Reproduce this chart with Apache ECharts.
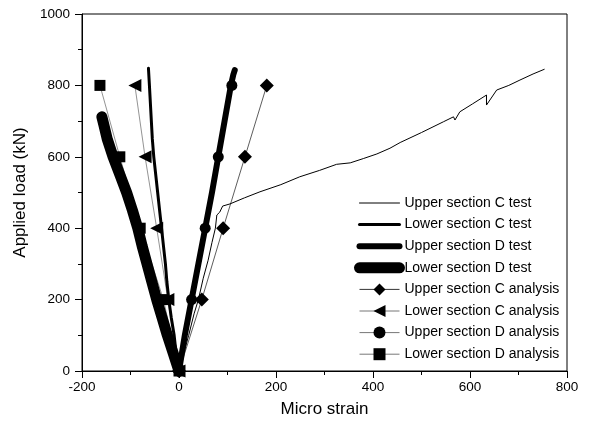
<!DOCTYPE html>
<html>
<head>
<meta charset="utf-8">
<script src="https://cdn.jsdelivr.net/npm/echarts@6/dist/echarts.min.js"></script>
<style>
  html, body { margin: 0; padding: 0; background: #fff; }
  #main { width: 591px; height: 427px; }
</style>
</head>
<body>
<div id="main"></div>
<script>
// [micro strain, applied load kN]
const upperCTest = [[0, 0], [10, 50], [20, 100], [31, 160], [40, 200], [50, 260], [60, 310], [68, 360], [75, 400], [78, 437], [84, 445], [90, 462],
  [105, 468], [135, 485], [167, 502], [210, 522], [249, 544], [290, 562], [325, 579], [353, 583], [380, 595], [408, 608], [435, 624], [456, 640],
  [500, 668], [545, 698], [566, 712], [569, 703], [579, 726], [605, 748], [634, 773], [634, 745], [655, 787], [680, 800], [703, 815], [730, 832], [753, 845]];
const lowerCTest = [[0, 0], [-6, 50], [-10, 100], [-16, 150], [-21, 200], [-25, 250], [-28, 300], [-32, 350], [-36, 400], [-40, 450], [-44, 500],
  [-48, 550], [-52, 600], [-55, 650], [-57, 700], [-59, 750], [-61, 800], [-63, 848]];
const upperDTest = [[0, 0], [12, 100], [26, 200], [40, 300], [54, 400], [68, 500], [81, 600], [94, 700], [107, 800], [112, 830], [115, 843]];
const lowerDTest = [[0, 0], [-12, 50], [-24, 100], [-35, 150], [-46, 200], [-56, 250], [-66, 300], [-76, 350], [-85, 400], [-96, 450],
  [-108, 500], [-122, 550], [-136, 600], [-148, 650], [-155, 690], [-159, 712]];
const upperCAnalysis = [[0, 0], [47, 200], [91, 400], [136, 600], [181, 800]];
const lowerCAnalysis = [[0, 0], [-23, 200], [-46, 400], [-70, 600], [-91, 800]];
const upperDAnalysis = [[0, 0], [26, 200], [54, 400], [81, 600], [109, 800]];
const lowerDAnalysis = [[0, 0], [-32, 200], [-80, 400], [-122, 600], [-163, 800]];
const seriesNames = ['Upper section C test', 'Lower section C test', 'Upper section D test', 'Lower section D test',
  'Upper section C analysis', 'Lower section C analysis', 'Upper section D analysis', 'Lower section D analysis'];
const testWidths = [1, 3, 6, 11];

const font = 'Liberation Sans, Arial, sans-serif';
const chart = echarts.init(document.getElementById('main'));

const testLine = (name, data, width) => ({
  name: name,
  type: 'line',
  data: data,
  symbol: 'circle',
  symbolSize: 3,
  showSymbol: false,
  lineStyle: { color: '#000', width: width, cap: 'round', join: 'round' },
  itemStyle: { color: '#000' },
  emphasis: { disabled: true },
  z: 3,
});
const analysisLine = (name, data, symbol, size, rotate, lineColor) => ({
  name: name,
  type: 'line',
  data: data,
  symbol: symbol,
  symbolSize: size,
  symbolRotate: rotate,
  showAllSymbol: true,
  lineStyle: { color: lineColor, width: 0.8 },
  itemStyle: { color: '#000' },
  emphasis: { disabled: true },
  z: 2,
});

chart.setOption({
  animation: false,
  textStyle: { fontFamily: font },
  grid: { left: 82, right: 24, top: 14, bottom: 56, show: true, borderColor: '#000', borderWidth: 1 },
  xAxis: {
    type: 'value', min: -200, max: 800, interval: 200,
    name: 'Micro strain', nameLocation: 'middle', nameGap: 30,
    nameTextStyle: { fontSize: 17, color: '#000', fontFamily: font },
    axisLine: { onZero: false, lineStyle: { color: '#000', width: 1 } },
    axisTick: { length: 7, lineStyle: { color: '#000' } },
    minorTick: { show: true, splitNumber: 2, length: 4, lineStyle: { color: '#000' } },
    splitLine: { show: false },
    axisLabel: { fontSize: 13.5, color: '#000', margin: 9, fontFamily: font, formatter: (v) => String(v) },
  },
  yAxis: {
    type: 'value', min: 0, max: 1000, interval: 200,
    name: 'Applied load (kN)', nameLocation: 'middle', nameGap: 47,
    nameTextStyle: { fontSize: 17, color: '#000', fontFamily: font },
    axisLine: { show: true, onZero: false, lineStyle: { color: '#000', width: 1 } },
    axisTick: { show: true, length: 7, lineStyle: { color: '#000' } },
    minorTick: { show: true, splitNumber: 2, length: 4, lineStyle: { color: '#000' } },
    splitLine: { show: false },
    axisLabel: { fontSize: 13.5, color: '#000', margin: 12, fontFamily: font, formatter: (v) => String(v) },
  },
  legend: {
    orient: 'vertical', left: 349, top: 191,
    itemWidth: 40, itemHeight: 15, itemGap: 7.6,
    textStyle: { fontSize: 14, color: '#000', fontFamily: font },
    selectedMode: false,
    data: [
      { name: seriesNames[0], lineStyle: { width: testWidths[0] }, itemStyle: { opacity: 0 } },
      { name: seriesNames[1], lineStyle: { width: testWidths[1] }, itemStyle: { opacity: 0 } },
      { name: seriesNames[2], lineStyle: { width: testWidths[2] }, itemStyle: { opacity: 0 } },
      { name: seriesNames[3], lineStyle: { width: testWidths[3] }, itemStyle: { opacity: 0 } },
      { name: seriesNames[4], lineStyle: { width: 1 } },
      { name: seriesNames[5], lineStyle: { width: 1 } },
      { name: seriesNames[6], lineStyle: { width: 1 } },
      { name: seriesNames[7], lineStyle: { width: 1 } },
    ],
  },
  series: [
    analysisLine(seriesNames[4], upperCAnalysis, 'diamond', 14, 0, '#333'),
    analysisLine(seriesNames[5], lowerCAnalysis, 'triangle', 13, 90, '#777'),
    analysisLine(seriesNames[6], upperDAnalysis, 'circle', 11, 0, '#777'),
    analysisLine(seriesNames[7], lowerDAnalysis, 'rect', 11, 0, '#777'),
    testLine(seriesNames[0], upperCTest, testWidths[0]),
    testLine(seriesNames[1], lowerCTest, testWidths[1]),
    testLine(seriesNames[2], upperDTest, testWidths[2]),
    testLine(seriesNames[3], lowerDTest, testWidths[3]),
  ],
});
</script>
</body>
</html>
